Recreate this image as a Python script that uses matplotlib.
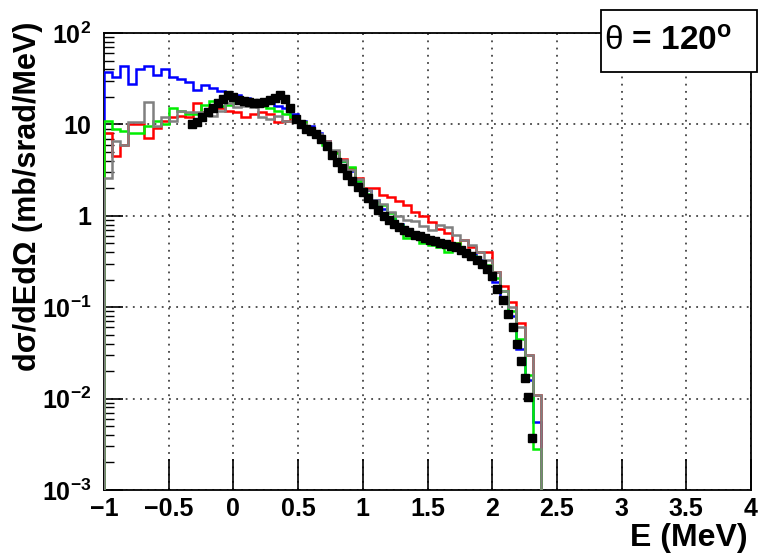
import numpy as np
import matplotlib
matplotlib.use("Agg")
import matplotlib.pyplot as plt
from matplotlib.patches import Rectangle

plt.rcParams['font.family'] = ['Liberation Sans', 'DejaVu Sans']
plt.rcParams['mathtext.fontset'] = 'custom'
plt.rcParams['mathtext.rm'] = 'Liberation Sans'
plt.rcParams['mathtext.bf'] = 'Liberation Sans:bold'
plt.rcParams['mathtext.it'] = 'Liberation Sans:italic'

# ---------------- data ----------------
bin_edges = [-1.0 + 0.0625 * k for k in range(55)]

blue_vals = [37, 33, 44, 28, 40, 44, 35, 40, 33, 31, 29, 24, 27, 25, 23, 21, 21, 19.5,
             18.5, 17.5, 17, 16, 15, 13, 11, 9.5, 8, 6.5, 5, 4, 3.1, 2.4, 1.9, 1.5, 1.2,
             0.95, 0.82, 0.72, 0.64, 0.58, 0.55, 0.52, 0.49, 0.46, 0.42, 0.38, 0.33,
             0.27, 0.19, 0.13, 0.08, 0.035, 0.016, 0.0055]
red_vals = [8, 4.5, 6.0, 10, 10, 7.1, 9.2, 11, 12, 12.5, 12, 17, 13.6, 16, 15, 14, 13.5,
            12, 13, 13.5, 13, 10.5, 11, 12, 10.5, 9, 7.5, 6.5, 5, 4.2, 3.3, 2.6, 2.0, 2.0,
            1.7, 1.6, 1.45, 1.3, 1.1, 1.0, 0.85, 0.72, 0.65, 0.5, 0.55, 0.45, 0.40, 0.40,
            0.24, 0.17, 0.115, 0.067, 0.030, 0.011]
green_vals = [11, 9, 8.5, 8, 8, 9.5, 11, 10, 15, 14, 13, 13, 16.5, 18, 16, 16.5, 17,
              17.5, 16.5, 16, 15, 14, 13, 12, 10.5, 9, 7.5, 6, 4.9, 4.0, 3.4, 2.4, 1.75,
              1.38, 1.3, 1.07, 0.8, 0.57, 0.6, 0.5, 0.48, 0.45, 0.40, 0.51, 0.42, 0.36,
              0.31, 0.29, 0.21, 0.15, 0.09, 0.045, 0.018, 0.0028]
gray_vals = [2.6, 6.5, 6.0, 10.5, 10.5, 17.5, 9.6, 12, 11, 14, 13.5, 13.6, 13.6, 12.5, 14,
             17, 15.5, 16, 15.5, 12, 11.5, 12.5, 11, 11, 10, 9, 7.8, 6.5, 5.2, 4.1, 3.2,
             2.5, 1.9, 1.5, 1.35, 1.1, 1.0, 0.9, 0.88, 0.78, 0.7, 0.8, 0.75, 0.62, 0.55,
             0.48, 0.40, 0.33, 0.24, 0.15, 0.10, 0.06, 0.03, 0.011]

data_E = [-0.32, -0.28, -0.24, -0.20, -0.16, -0.12, -0.08, -0.04, 0.00, 0.04, 0.08, 0.12,
          0.16, 0.20, 0.24, 0.28, 0.32, 0.36, 0.40, 0.44, 0.48, 0.52, 0.56, 0.60, 0.64,
          0.68, 0.72, 0.76, 0.80, 0.84, 0.88, 0.92, 0.96, 1.00, 1.04, 1.08, 1.12, 1.16,
          1.20, 1.24, 1.28, 1.32, 1.36, 1.40, 1.44, 1.48, 1.52, 1.56, 1.60, 1.64, 1.68,
          1.72, 1.76, 1.80, 1.84, 1.88, 1.92, 1.96, 2.00, 2.04, 2.08, 2.12, 2.16, 2.19,
          2.22, 2.25, 2.28, 2.31]
data_val = [10, 10.5, 12, 13.5, 15, 17, 19, 21, 20, 18.5, 18, 17.5, 17, 17, 17.5, 18.5,
            19.5, 21, 19, 15, 11.5, 10, 9, 8.5, 7.8, 7, 5.8, 4.6, 3.9, 3.3, 2.8, 2.4, 2.05,
            1.8, 1.55, 1.35, 1.15, 1.0, 0.9, 0.82, 0.76, 0.7, 0.66, 0.62, 0.6, 0.57, 0.55,
            0.53, 0.51, 0.49, 0.47, 0.45, 0.42, 0.39, 0.36, 0.33, 0.30, 0.26, 0.22, 0.16,
            0.12, 0.085, 0.06, 0.04, 0.026, 0.017, 0.0105, 0.0037]

x_ticks = [-1, -0.5, 0, 0.5, 1, 1.5, 2, 2.5, 3, 3.5, 4]
x_tick_labels = ['\u22121', '\u22120.5', '0', '0.5', '1', '1.5', '2', '2.5', '3', '3.5', '4']
y_ticks = [1e-3, 1e-2, 1e-1, 1, 10, 100]
y_tick_labels = [r'$\mathbf{10^{-3}}$', r'$\mathbf{10^{-2}}$', r'$\mathbf{10^{-1}}$',
                 '1', '10', r'$\mathbf{10^{2}}$']

# ---------------- figure ----------------
W, H = 759, 556
fig = plt.figure(figsize=(W / 100, H / 100), dpi=100)
ax = fig.add_axes([104 / W, 66 / H, 647 / W, 457 / H])
ax.set_xlim(-1, 4)
ax.set_yscale('log')
ax.set_ylim(1e-3, 100)

lw = 1.8
for vals, col in [(blue_vals, '#0000ff'), (red_vals, '#ff0000'),
                  (green_vals, '#00ee00'), (gray_vals, '#808080')]:
    ax.stairs(vals, bin_edges, baseline=1e-6, color=col, lw=lw, zorder=3)

ax.plot(data_E, data_val, ls='none', marker='s', ms=5.6, color='black', zorder=5)

ax.grid(True, which='major', ls=(0, (1, 3)), color='#444444', lw=1.3)
ax.set_xticks(x_ticks)
ax.set_xticklabels(x_tick_labels)
ax.set_yticks(y_ticks)
ax.set_yticklabels(y_tick_labels)
ax.tick_params(axis='x', which='major', direction='in', length=22, width=1.2,
               labelsize=18, pad=5)
ax.tick_params(axis='x', which='minor', bottom=False)
ax.tick_params(axis='y', which='major', direction='in', length=14, width=1.2,
               labelsize=18, pad=9)
ax.tick_params(axis='y', which='minor', direction='in', length=7, width=1.0)
for lab in ax.get_xticklabels() + ax.get_yticklabels():
    lab.set_fontweight('bold')
for sp in ax.spines.values():
    sp.set_linewidth(1.3)

fig.text(748 / W, 1 - 538 / H, 'E (MeV)', ha='right', va='center', fontsize=23,
         fontweight='bold')
fig.text(28 / W, 1 - 22 / H, 'd\u03c3/dEd\u03a9 (mb/srad/MeV)', ha='center', va='top',
         rotation=90, fontsize=22, fontweight='bold')

box = Rectangle((601 / W, 1 - 72 / H), (757 - 601) / W, 62 / H, transform=fig.transFigure,
                facecolor='white', edgecolor='black', lw=1.3, zorder=10)
fig.patches.append(box)
fig.text(604 / W, 1 - 42 / H, r'$\mathrm{\theta}$ = 120$^{\mathbf{o}}$', ha='left',
         va='center', fontsize=24, fontweight='bold', zorder=11)

fig.savefig('out.png', dpi=100)
